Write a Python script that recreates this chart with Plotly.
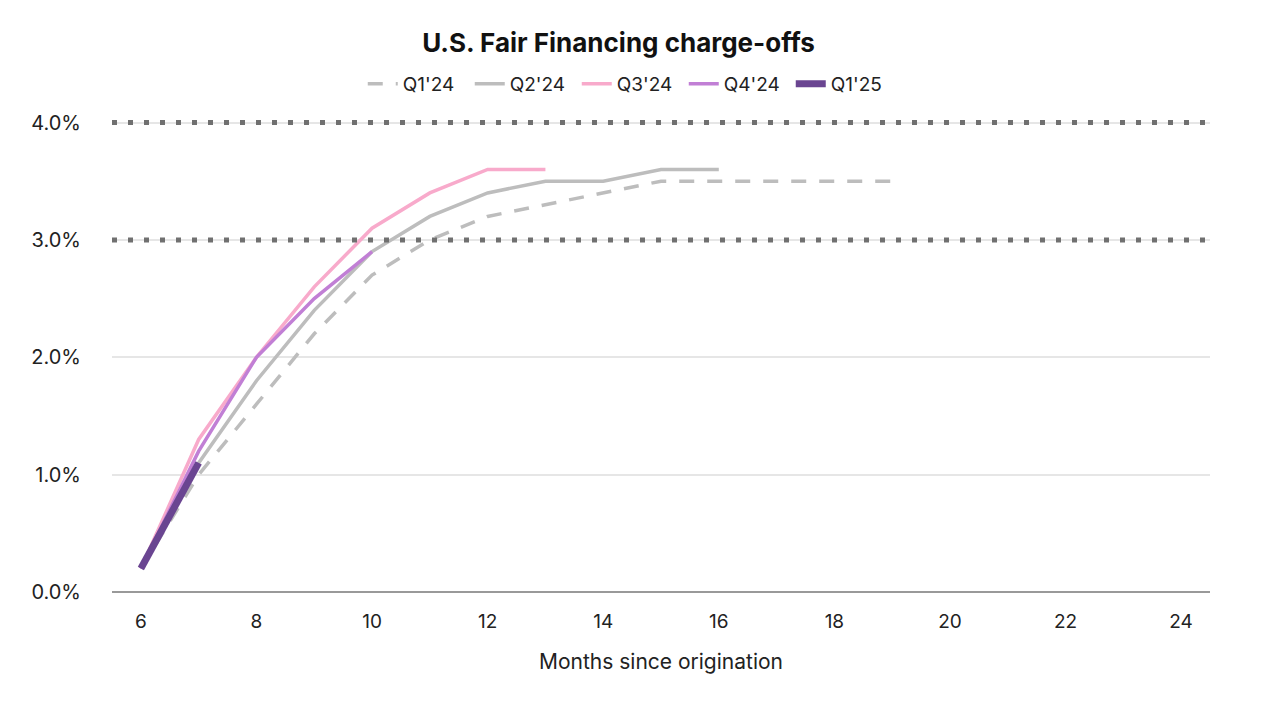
import plotly.graph_objects as go

months = list(range(6, 20))
series_names = ["Q1'24", "Q2'24", "Q3'24", "Q4'24", "Q1'25"]
q1_24 = [0.2, 1.0, 1.6, 2.2, 2.7, 3.0, 3.2, 3.3, 3.4, 3.5, 3.5, 3.5, 3.5, 3.5]
q2_24 = [0.2, 1.1, 1.8, 2.4, 2.9, 3.2, 3.4, 3.5, 3.5, 3.6, 3.6]
q3_24 = [0.2, 1.3, 2.0, 2.6, 3.1, 3.4, 3.6, 3.6]
q4_24 = [0.2, 1.2, 2.0, 2.5, 2.9]
q1_25 = [0.2, 1.1]
reference_levels = [3.0, 4.0]
x_ticks = [6, 8, 10, 12, 14, 16, 18, 20, 22, 24]
y_ticks = [0, 1, 2, 3, 4]
y_labels = ["0.0%", "1.0%", "2.0%", "3.0%", "4.0%"]

colors = ["#BDBDBD", "#BDBDBD", "#F8AACB", "#C17FD5", "#6A4591"]
widths = [3.5, 3.5, 3.5, 3.5, 7]
dashes = ["15px,13px", "solid", "solid", "solid", "solid"]
values = [q1_24, q2_24, q3_24, q4_24, q1_25]

fig = go.Figure()
for lvl in reference_levels:
    fig.add_trace(go.Scatter(
        x=[0, 1], y=[lvl, lvl], xaxis="x2", mode="lines", showlegend=False,
        hoverinfo="skip", line=dict(color="#707070", width=5, dash="5px,11px"),
    ))
for name, vals, c, w, d in zip(series_names, values, colors, widths, dashes):
    fig.add_trace(go.Scatter(
        x=months[:len(vals)], y=vals, name=name, mode="lines",
        line=dict(color=c, width=w, dash=d),
    ))

font = "Inter, Roboto, sans-serif"
fig.update_layout(
    width=1280, height=704,
    paper_bgcolor="white", plot_bgcolor="white",
    margin=dict(l=104, r=78, t=111, b=120),
    title=dict(text="<b>U.S. Fair Financing charge-offs</b>", x=0.477, xanchor="center",
               y=0.95, yanchor="middle", font=dict(family=font, size=26, color="#111")),
    legend=dict(orientation="h", x=0.472, xanchor="center", y=1.074, yanchor="middle",
                font=dict(family=font, size=19, color="#222"), itemwidth=30,
                entrywidth=62, entrywidthmode="pixels", tracegroupgap=0),
    font=dict(family=font, color="#222"),
    xaxis=dict(range=[5.5, 24.5], tickvals=x_ticks, showgrid=False, zeroline=False,
               showline=False, tickfont=dict(size=19), ticks="", ticklabelstandoff=16,
               title=dict(text="Months since origination", font=dict(size=21), standoff=22)),
    xaxis2=dict(range=[0, 1], overlaying="x", visible=False, showgrid=False),
    yaxis=dict(range=[0, 4.03], tickvals=y_ticks, ticktext=y_labels,
               showgrid=True, gridcolor="#E6E6E6", gridwidth=1.5,
               zeroline=True, zerolinecolor="#999999", zerolinewidth=2,
               tickfont=dict(size=20), ticks="", ticklabelstandoff=30),
)

fig.write_html("out.html")
